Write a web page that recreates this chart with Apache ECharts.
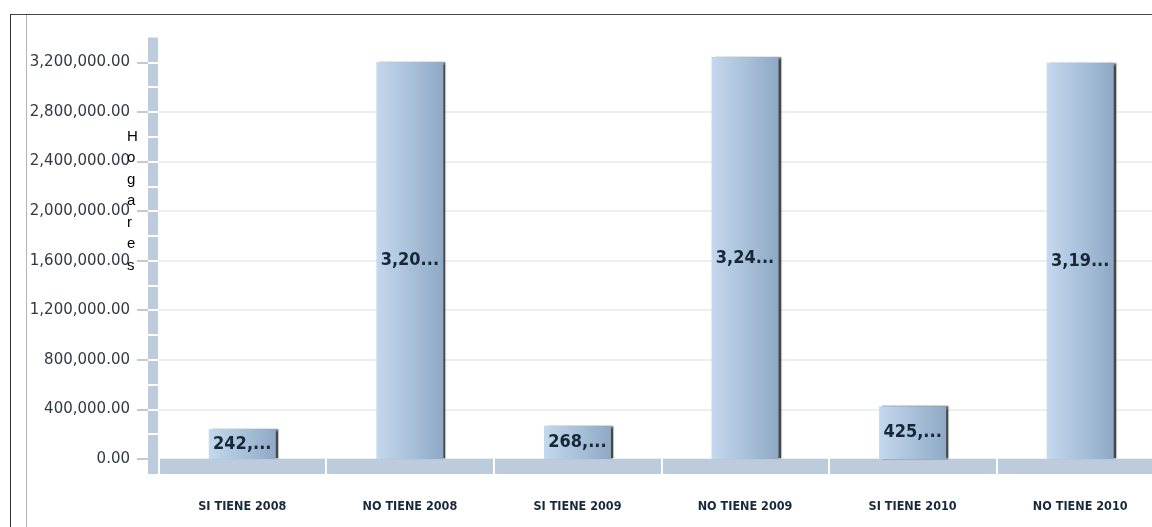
<!DOCTYPE html>
<html>
<head>
<meta charset="utf-8">
<script src="https://cdn.jsdelivr.net/npm/echarts@6/dist/echarts.min.js"></script>
<style>
  html, body { margin: 0; padding: 0; background: #fff; }
  #wrap { position: relative; width: 1152px; height: 527px; overflow: hidden; }
  #frame { position: absolute; left: 10px; top: 14px; right: -5px; bottom: -5px;
           border-left: 1.5px solid #333; border-top: 1.5px solid #444; }
  #inner { position: absolute; left: 26px; top: 15px; bottom: 0; width: 0;
           border-left: 1px solid #b4b4b4; }
  #chart { position: absolute; left: 0; top: 0; width: 1175px; height: 527px; }
</style>
</head>
<body>
<div id="wrap">
  <div id="frame"></div>
  <div id="inner"></div>
  <div id="chart"></div>
</div>
<script>
// ---- data ----
const categories = ['SI TIENE 2008', 'NO TIENE 2008', 'SI TIENE 2009', 'NO TIENE 2009', 'SI TIENE 2010', 'NO TIENE 2010'];
const hogares = [242800, 3203000, 268500, 3243000, 425500, 3196000];
const yTicks = [0, 400000, 800000, 1200000, 1600000, 2000000, 2400000, 2800000, 3200000];
const wallSegments = [200000, 400000, 600000, 800000, 1000000, 1200000, 1400000, 1600000, 1800000, 2000000, 2200000, 2400000, 2600000, 2800000, 3000000, 3200000];
const axisName = 'Hogares';

const wallColor = '#bdccdc';
const yMin = 0, yMax = 3400000;
const fmt2 = v => v.toLocaleString('en-US', { minimumFractionDigits: 2, maximumFractionDigits: 2 });

const chart = echarts.init(document.getElementById('chart'), null, { renderer: 'canvas' });
chart.setOption({
  animation: false,
  backgroundColor: 'transparent',
  grid: { left: 158.5, right: 11, top: 37.5, bottom: 68, containLabel: false },
  xAxis: [
    {
      type: 'category', data: categories, position: 'bottom', offset: 7, z: 3,
      axisLine: { show: true, onZero: false, lineStyle: { color: wallColor, width: 15, cap: 'butt' } },
      axisTick: { show: true, alignWithLabel: false, length: 8, lineStyle: { color: '#fff', width: 2, cap: 'butt' } },
      axisLabel: { margin: 34, color: '#18293a', fontFamily: 'DejaVu Sans Condensed', fontWeight: 'bold', fontSize: 12.5 }
    },
    {
      type: 'category', data: categories, position: 'bottom', offset: 7, z: 4,
      axisLine: { show: false, onZero: false },
      axisTick: { show: true, inside: true, length: 8, lineStyle: { color: '#fff', width: 2, cap: 'butt' } },
      axisLabel: { show: false }
    }
  ],
  yAxis: [
    {
      type: 'value', position: 'left', min: yMin, max: yMax, interval: 400000, offset: 10.5, z: 1,
      axisLine: { show: false, onZero: false },
      axisTick: { show: true, length: 11, customValues: yTicks, lineStyle: { color: wallColor, width: 2, cap: 'butt' } },
      axisLabel: { margin: 18, customValues: yTicks, formatter: fmt2, color: '#2f3a46', fontFamily: 'DejaVu Sans', fontSize: 15 },
      splitLine: { show: true, showMaxLine: false, lineStyle: { color: '#e8e8e8', width: 1.5 } }
    },
    {
      type: 'value', position: 'left', min: yMin, max: yMax, offset: 5.5, z: 2,
      axisLine: { show: true, onZero: false, symbol: ['rect', 'none'], symbolSize: [10, 30],
                  lineStyle: { color: wallColor, width: 10, cap: 'butt' } },
      axisTick: { show: false }, axisLabel: { show: false }, splitLine: { show: false }
    },
    {
      type: 'value', position: 'left', min: yMin, max: yMax, offset: 10.5, z: 4,
      axisLine: { show: false, onZero: false },
      axisTick: { show: true, inside: true, length: 10, customValues: wallSegments, lineStyle: { color: '#fff', width: 2, cap: 'butt' } },
      axisLabel: { show: false }, splitLine: { show: false }
    }
  ],
  series: [{
    type: 'bar', data: hogares, barWidth: '40%', z: 3,
    itemStyle: {
      color: new echarts.graphic.LinearGradient(0, 0, 1, 0, [
        { offset: 0, color: '#c4d8ee' },
        { offset: 0.5, color: '#aac1da' },
        { offset: 1, color: '#8ea9c5' }
      ]),
      shadowColor: 'rgba(50,50,50,0.9)', shadowBlur: 1.5, shadowOffsetX: 3, shadowOffsetY: 0
    },
    label: {
      show: true, position: 'inside',
      formatter: p => p.value.toLocaleString('en-US').slice(0, 4) + '...',
      color: '#162838', fontFamily: 'DejaVu Sans Condensed', fontWeight: 'bold', fontSize: 18
    }
  }],
  graphic: [{
    type: 'text', left: 127, top: 126, z: 10,
    style: {
      text: axisName.split('').join('\n'), fill: '#000', align: 'center',
      font: '15px "Liberation Sans", Arial, sans-serif', lineHeight: 21.5
    }
  }]
});
</script>
</body>
</html>
